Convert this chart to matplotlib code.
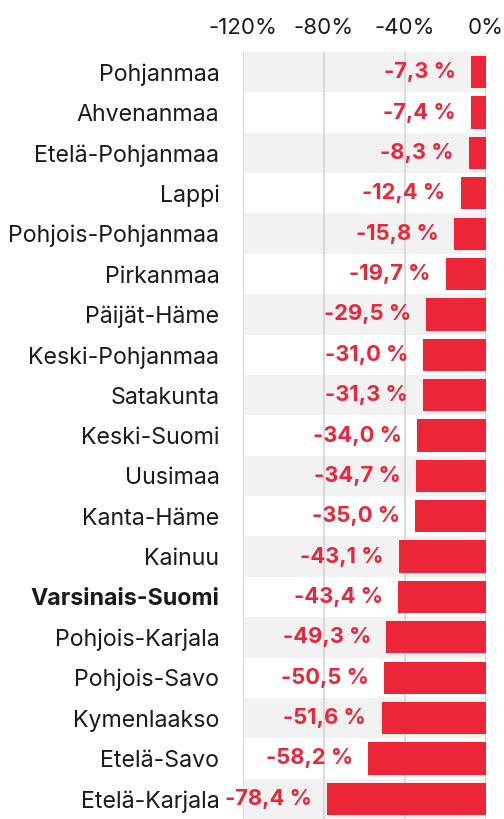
import matplotlib
matplotlib.use("Agg")
import matplotlib.pyplot as plt
from matplotlib.ticker import FixedLocator

regions = ["Pohjanmaa", "Ahvenanmaa", "Etelä-Pohjanmaa", "Lappi", "Pohjois-Pohjanmaa",
           "Pirkanmaa", "Päijät-Häme", "Keski-Pohjanmaa", "Satakunta", "Keski-Suomi",
           "Uusimaa", "Kanta-Häme", "Kainuu", "Varsinais-Suomi", "Pohjois-Karjala",
           "Pohjois-Savo", "Kymenlaakso", "Etelä-Savo", "Etelä-Karjala"]
values = [-7.3, -7.4, -8.3, -12.4, -15.8, -19.7, -29.5, -31.0, -31.3, -34.0,
          -34.7, -35.0, -43.1, -43.4, -49.3, -50.5, -51.6, -58.2, -78.4]
highlight = "Varsinais-Suomi"
xticks = [-120, -80, -40, 0]
xtick_labels = ["-120%", "-80%", "-40%", "0%"]

plt.rcParams['font.family'] = ['Inter', 'DejaVu Sans']
RED = "#ec2539"

fig = plt.figure(figsize=(5.04, 8.19), dpi=100)
ax = fig.add_axes([243/504, 0.0, (486-243)/504, 1 - 52/819])

n = len(regions)
ys = list(range(n))
for i in ys:
    if i % 2 == 0:
        ax.axhspan(i - 0.5, i + 0.5, color="#f2f2f2", zorder=0, lw=0)

for xv in xticks:
    ax.axvline(xv, color="#d6d6d6", lw=1.2, zorder=1)

ax.barh(ys, values, height=0.8, color=RED, zorder=2)
for i, v in enumerate(values):
    ax.annotate(f"{v:.1f} %".replace(".", ","), xy=(v, i), xytext=(-11, 0),
                textcoords="offset points", ha="right", va="center",
                color=RED, fontsize=15.8, fontweight="bold", zorder=3)

ax.set_xlim(-120, 0)
ax.set_ylim(n - 0.5, -0.5)
ax.xaxis.set_major_locator(FixedLocator(xticks))
ax.set_xticklabels(xtick_labels)
ax.xaxis.tick_top()
ax.tick_params(axis="x", length=0, pad=10, labelsize=16, colors="#1a1a1a")
ax.set_yticks(ys)
ax.set_yticklabels(regions)
ax.tick_params(axis="y", length=0, pad=17, labelsize=16.7, colors="#1a1a1a")
for lbl in ax.get_yticklabels():
    if lbl.get_text() == highlight:
        lbl.set_fontweight("bold")
for s in ax.spines.values():
    s.set_visible(False)

fig.savefig("out.png", dpi=100)
